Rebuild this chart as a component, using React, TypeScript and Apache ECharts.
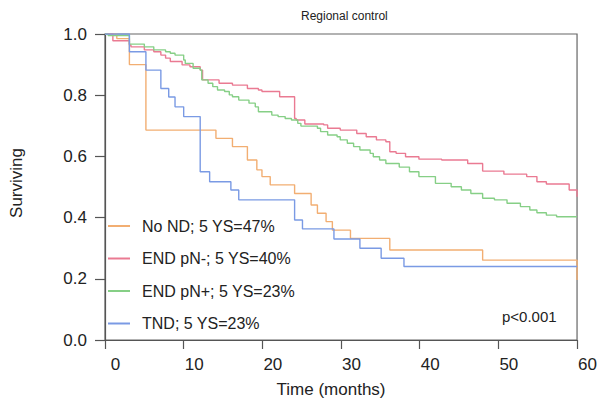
import React, { useEffect, useRef } from "react";
import * as echarts from "echarts";

// Kaplan–Meier step data (time in months, surviving proportion)
const seriesNames = [
  "No ND; 5 YS=47%",
  "END pN-; 5 YS=40%",
  "END pN+; 5 YS=23%",
  "TND; 5 YS=23%",
];
const seriesColors = ["#F2AE72", "#EA7A92", "#86CF86", "#7A9AE4"];

const noNdTime = [0, 1.5, 3.1, 5.2, 14.1, 16.2, 18.1, 19.3, 19.95, 21.0, 24.1, 26.2, 27.0, 28.1, 28.9, 31.2, 36.2, 48.0, 60];
const noNdSurv = [1.0, 0.985, 0.9, 0.686, 0.659, 0.632, 0.588, 0.556, 0.534, 0.507, 0.479, 0.441, 0.414, 0.387, 0.359, 0.332, 0.294, 0.261, 0.196];

const endNegTime = [0, 1.0, 3.1, 3.3, 5.0, 6.2, 7.1, 7.7, 8.3, 9.8, 10.8, 12.1, 12.4, 14.5, 16.2, 18.1, 19.5, 19.95, 22.2, 24.1, 24.3, 25.4, 27.8, 28.3, 29.9, 32.0, 33.2, 34.5, 35.7, 36.2, 37.0, 38.2, 39.9, 42.8, 46.1, 48.0, 50.7, 53.6, 54.9, 56.1, 59.0, 60];
const endNegSurv = [1.0, 0.978, 0.964, 0.958, 0.948, 0.942, 0.931, 0.921, 0.91, 0.899, 0.893, 0.882, 0.85, 0.839, 0.833, 0.822, 0.817, 0.812, 0.795, 0.724, 0.719, 0.706, 0.703, 0.692, 0.686, 0.675, 0.664, 0.654, 0.648, 0.615, 0.61, 0.599, 0.591, 0.588, 0.577, 0.552, 0.542, 0.534, 0.517, 0.51, 0.49, 0.468];

const endPosTime = [0, 0.4, 3.1, 5.0, 6.2, 7.7, 8.3, 8.9, 10.0, 10.2, 11.2, 12.1, 12.3, 13.1, 13.7, 14.3, 15.2, 15.8, 16.2, 17.0, 18.3, 19.1, 19.5, 21.2, 22.0, 22.9, 23.7, 24.5, 24.9, 27.0, 27.4, 28.3, 29.5, 29.9, 30.8, 31.6, 32.4, 33.7, 34.1, 34.9, 35.7, 37.4, 38.7, 39.9, 42.0, 44.0, 45.3, 46.5, 48.0, 49.5, 51.1, 52.8, 54.0, 54.9, 56.1, 57.4, 60];
const endPosSurv = [1.0, 0.995, 0.967, 0.958, 0.948, 0.942, 0.937, 0.931, 0.915, 0.904, 0.888, 0.882, 0.85, 0.839, 0.828, 0.817, 0.812, 0.801, 0.795, 0.784, 0.774, 0.762, 0.746, 0.735, 0.73, 0.724, 0.719, 0.708, 0.699, 0.692, 0.681, 0.67, 0.664, 0.654, 0.643, 0.632, 0.621, 0.61, 0.599, 0.588, 0.577, 0.565, 0.55, 0.534, 0.512, 0.501, 0.49, 0.479, 0.463, 0.458, 0.447, 0.436, 0.425, 0.416, 0.408, 0.403, 0.403];

const tndTime = [0, 3.1, 5.2, 7.1, 8.1, 8.9, 10.0, 12.1, 13.3, 16.0, 17.0, 24.1, 25.1, 29.1, 32.4, 35.1, 38.0, 60];
const tndSurv = [1.0, 0.942, 0.882, 0.822, 0.794, 0.762, 0.73, 0.55, 0.517, 0.49, 0.458, 0.392, 0.363, 0.33, 0.3, 0.267, 0.24, 0.24];

const xTicks = [0, 10, 20, 30, 40, 50, 60];
const yTicks = [0, 0.2, 0.4, 0.6, 0.8, 1.0];

const titleText = "Regional control";
const xName = "Time (months)";
const yName = "Surviving";
const pText = "p<0.001";

const FONT = "'Liberation Sans', Arial, sans-serif";

function pairs(t: number[], s: number[]) {
  return t.map((v, i) => [v, s[i]]);
}

export default function App() {
  const ref = useRef<HTMLDivElement>(null);
  useEffect(() => {
    if (!ref.current) return;
    const chart = echarts.init(ref.current, null, { renderer: "svg" });
    const allData = [
      pairs(noNdTime, noNdSurv),
      pairs(endNegTime, endNegSurv),
      pairs(endPosTime, endPosSurv),
      pairs(tndTime, tndSurv),
    ];
    chart.setOption({
      animation: false,
      backgroundColor: "#ffffff",
      textStyle: { fontFamily: FONT },
      title: {
        text: titleText,
        left: 296,
        top: 5,
        textStyle: { fontSize: 12, fontWeight: "normal", color: "#222", fontFamily: FONT },
      },
      grid: {
        left: 100,
        top: 34,
        right: 19,
        bottom: 64,
        show: true,
        borderColor: "#666",
        borderWidth: 1.2,
        containLabel: false,
      },
      legend: {
        orient: "vertical",
        left: 108,
        top: 217,
        padding: 0,
        itemGap: 14.5,
        itemWidth: 22,
        itemHeight: 2,
        icon: "rect",
        data: seriesNames,
        textStyle: {
          fontSize: 16,
          color: "#222",
          fontFamily: FONT,
          lineHeight: 18,
          padding: [0, 0, 0, 7],
        },
      },
      xAxis: {
        type: "value",
        min: 0,
        max: 60,
        interval: 10,
        name: xName,
        nameLocation: "middle",
        nameGap: 41,
        nameTextStyle: { fontSize: 17, color: "#222", fontFamily: FONT, padding: [0, 20, 0, 0] },
        axisLine: { show: true, lineStyle: { color: "#555", width: 1.2 } },
        axisTick: { show: true, length: 9, lineStyle: { color: "#555", width: 1.2 } },
        axisLabel: {
          fontSize: 17,
          color: "#222",
          margin: 16,
          padding: [0, 0, 0, 21],
          fontFamily: FONT,
          formatter: (v: number) => (xTicks.includes(v) ? String(v) : ""),
        },
        splitLine: { show: false },
      },
      yAxis: {
        type: "value",
        min: 0,
        max: 1,
        interval: 0.2,
        name: yName,
        nameLocation: "middle",
        nameGap: 80,
        nameRotate: 90,
        nameTextStyle: { fontSize: 17, color: "#222", fontFamily: FONT, padding: [0, 0, 0, 8] },
        axisLine: { show: true, lineStyle: { color: "#555", width: 1.2 } },
        axisTick: { show: true, length: 10, lineStyle: { color: "#555", width: 1.2 } },
        axisLabel: {
          fontSize: 17,
          color: "#222",
          margin: 18,
          fontFamily: FONT,
          formatter: (v: number) => {
            const m = yTicks.find((t) => Math.abs(t - v) < 1e-6);
            return m === undefined ? "" : m.toFixed(1);
          },
        },
        splitLine: { show: false },
      },
      graphic: [
        {
          type: "text",
          left: 502,
          top: 309,
          style: { text: pText, fontSize: 15, fill: "#222", fontFamily: FONT },
        },
      ],
      series: seriesNames.map((name, i) => ({
        name,
        type: "line",
        step: "end",
        showSymbol: false,
        symbol: "none",
        data: allData[i],
        color: seriesColors[i],
        lineStyle: { color: seriesColors[i], width: 1.4 },
        itemStyle: { color: seriesColors[i] },
        z: 3,
      })),
    });
    return () => chart.dispose();
  }, []);
  return (
    <div
      ref={ref}
      style={{ position: "fixed", left: 0, top: 0, width: 600, height: 404, background: "#fff" }}
    />
  );
}
